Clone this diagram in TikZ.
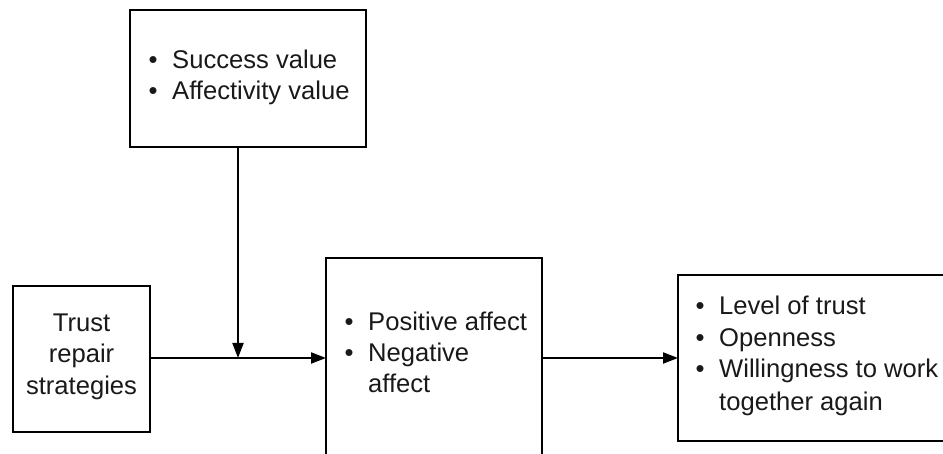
\documentclass[tikz,border=0pt]{standalone}
\usepackage{fontspec}
\setmainfont{Liberation Sans}
\usetikzlibrary{arrows.meta}
\begin{document}
\begin{tikzpicture}[x=1pt,y=-1pt,
  box/.style={draw=black,line width=1.8pt,rectangle,inner sep=0pt,outer sep=0pt},
  txt/.style={inner sep=0pt,anchor=base west,font=\fontsize{25.6}{31}\selectfont,text=black!90},
  ctxt/.style={inner sep=0pt,anchor=base,font=\fontsize{25.6}{31}\selectfont,text=black!90},
  conn/.style={line width=1.8pt,-{Triangle[length=15pt,width=11pt]}}]
\useasboundingbox (0,0) rectangle (943,454);
\clip (0,0) rectangle (943,454);
% boxes
\node[box,minimum width=236pt,minimum height=137pt] (top) at (248,78.5) {};
\node[box,minimum width=137pt,minimum height=146pt] (left) at (81.5,359) {};
\node[box,minimum width=216pt,minimum height=230pt] (mid) at (434,373) {};
\node[box,minimum width=292pt,minimum height=166pt] (right) at (824,358) {};
% texts
\node[txt] (b1) at (148.5,69) {•};
\node[txt] (t1) at (172,69) {Success value};
\node[txt] (b2) at (148.5,100) {•};
\node[txt] (t2) at (172,100) {Affectivity value};
\node[ctxt] (l1) at (81.5,332) {Trust};
\node[ctxt] (l2) at (81.5,363) {repair};
\node[ctxt] (l3) at (81.5,395) {strategies};
\node[txt] (b3) at (344.5,331) {•};
\node[txt] (m1) at (368,331) {Positive affect};
\node[txt] (b4) at (344.5,362) {•};
\node[txt] (m2) at (368,362) {Negative};
\node[txt] (m3) at (368,393) {affect};
\node[txt] (b5) at (695.5,315) {•};
\node[txt] (r1) at (719,315) {Level of trust};
\node[txt] (b6) at (695.5,347) {•};
\node[txt] (r2) at (719,347) {Openness};
\node[txt] (b7) at (695.5,378) {•};
\node[txt] (r3) at (719,378) {Willingness to work};
\node[txt] (r4) at (719,410) {together again};
% connectors
\coordinate (j) at (238,358);
\draw[conn] (left.east |- j) -- (mid.west |- j);
\draw[conn] (top.south -| j) -- (j);
\draw[conn] (mid.east |- right.west) -- (right.west);
\end{tikzpicture}
\end{document}
